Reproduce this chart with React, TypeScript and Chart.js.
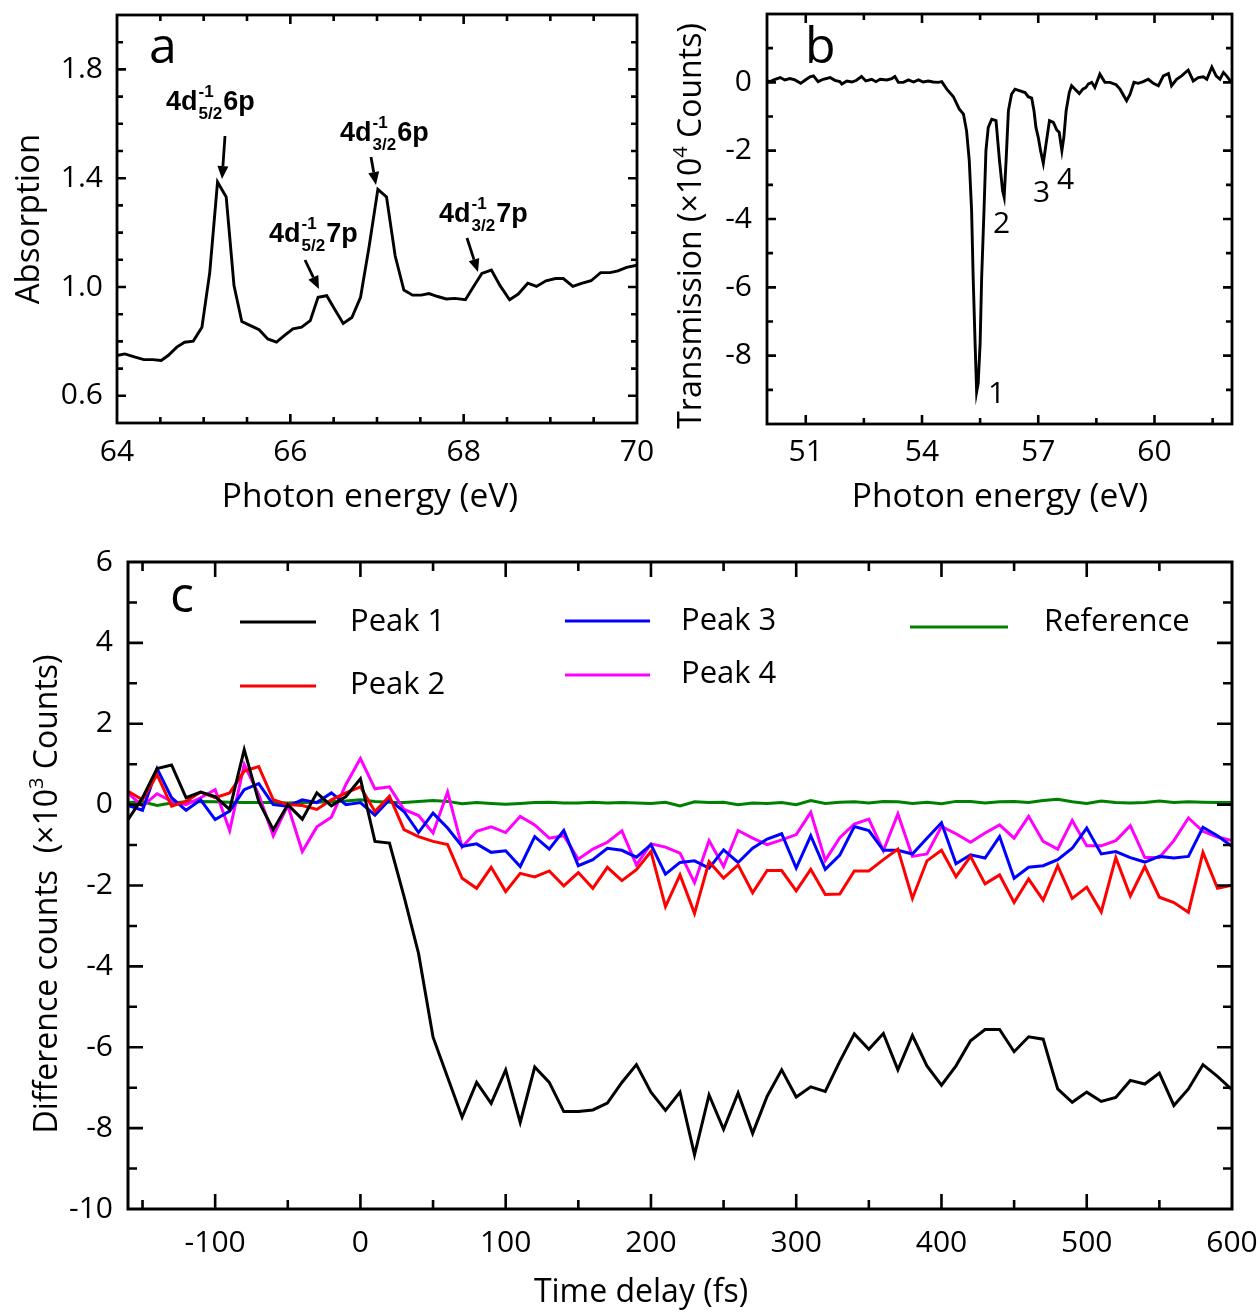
import React, { useEffect, useRef } from 'react';
import { Chart, registerables } from 'chart.js';
Chart.register(...registerables);

const W = 1260;
const H = 1314;
const SANS = "'Open Sans', 'Noto Sans', 'DejaVu Sans', sans-serif";
const BOLD = "'Liberation Sans', Arial, sans-serif";

// ---------- Panel a : absorption ----------
const absEnergy = [64.00, 64.09, 64.21, 64.31, 64.41, 64.51, 64.59, 64.69, 64.78, 64.88, 64.98,
  65.07, 65.16, 65.26, 65.35, 65.44, 65.54, 65.64, 65.74, 65.84, 65.93,
  66.03, 66.13, 66.23, 66.32, 66.42, 66.51, 66.61, 66.71, 66.81, 66.91,
  67.01, 67.11, 67.21, 67.31, 67.41, 67.51, 67.60, 67.70, 67.80, 67.90,
  68.02, 68.12, 68.21, 68.32, 68.42, 68.53, 68.63, 68.74, 68.84, 68.95,
  69.06, 69.15, 69.26, 69.36, 69.47, 69.58, 69.69, 69.78, 69.88, 70.00];
const absValue = [0.748, 0.754, 0.742, 0.733, 0.733, 0.730, 0.748, 0.779, 0.797, 0.801,
  0.852, 1.053, 1.386, 1.331, 1.005, 0.873, 0.858, 0.843, 0.809, 0.797,
  0.821, 0.846, 0.852, 0.876, 0.962, 0.968, 0.919, 0.866, 0.888, 0.962,
  1.151, 1.359, 1.331, 1.114, 0.989, 0.970, 0.970, 0.976, 0.965, 0.956,
  0.958, 0.953, 1.005, 1.050, 1.062, 1.005, 0.953, 0.974, 1.014, 1.002,
  1.023, 1.031, 1.031, 1.002, 1.013, 1.023, 1.053, 1.053, 1.059, 1.072, 1.080];
const aXTicks = [64, 64.5, 65, 65.5, 66, 66.5, 67, 67.5, 68, 68.5, 69, 69.5, 70];
const aXLabels = [64, 66, 68, 70];
const aYTicks = [0.5, 0.6, 0.7, 0.8, 0.9, 1.0, 1.1, 1.2, 1.3, 1.4, 1.5, 1.6, 1.7, 1.8, 1.9, 2.0];
const aYLabels = [0.6, 1.0, 1.4, 1.8];

// ---------- Panel b : transmission ----------
const transEnergy = [50.01, 50.08, 50.21, 50.34, 50.46, 50.59, 50.72, 50.87, 50.98, 51.11,
  51.20, 51.32, 51.45, 51.63, 51.75, 51.88, 51.93, 52.06, 52.19, 52.31,
  52.44, 52.55, 52.70, 52.81, 52.92, 53.09, 53.22, 53.30, 53.39, 53.52,
  53.65, 53.78, 53.91, 54.03, 54.16, 54.29, 54.42, 54.51, 54.64, 54.81,
  54.96, 55.07, 55.15, 55.22, 55.28, 55.32, 55.37, 55.41, 55.45, 55.50,
  55.54, 55.60, 55.65, 55.71, 55.80, 55.91, 56.00, 56.08, 56.12, 56.17,
  56.23, 56.31, 56.40, 56.53, 56.66, 56.74, 56.83, 56.89, 56.94, 57.00,
  57.06, 57.13, 57.20, 57.29, 57.39, 57.48, 57.54, 57.61, 57.66, 57.72,
  57.80, 57.86, 57.95, 58.06, 58.15, 58.23, 58.29, 58.38, 58.46, 58.59,
  58.72, 58.85, 59.01, 59.11, 59.28, 59.37, 59.47, 59.58, 59.71, 59.84,
  59.97, 60.10, 60.23, 60.36, 60.44, 60.57, 60.70, 60.87, 61.00, 61.13,
  61.26, 61.35, 61.48, 61.59, 61.69, 61.78, 61.86, 61.97];
const transValue = [0.04, 0.02, 0.09, 0.14, 0.07, 0.11, 0.07, -0.03, 0.06, 0.16,
  0.19, 0.02, 0.09, 0.14, 0.06, 0.02, -0.05, 0.04, 0.01, 0.06,
  0.17, 0.04, 0.09, 0.02, 0.09, 0.07, 0.11, 0.17, 0.00, 0.00,
  0.07, 0.01, 0.07, 0.01, 0.04, 0.01, 0.00, 0.02, -0.20, -0.42,
  -0.78, -0.93, -1.42, -2.29, -3.75, -5.70, -7.64, -9.06, -8.81, -7.64,
  -5.70, -3.75, -2.00, -1.32, -1.08, -1.12, -2.29, -3.17, -3.36, -2.29,
  -0.83, -0.35, -0.20, -0.25, -0.30, -0.42, -0.46, -0.83, -1.32, -1.61,
  -2.00, -2.37, -1.81, -1.12, -1.17, -1.40, -1.46, -2.00, -1.61, -0.83,
  -0.30, -0.10, -0.20, -0.33, -0.20, -0.15, -0.05, 0.00, -0.15, 0.24,
  0.00, 0.00, -0.07, -0.20, -0.54, -0.35, 0.00, -0.03, 0.02, 0.09,
  -0.03, -0.10, 0.19, 0.26, -0.10, 0.09, 0.19, 0.36, 0.04, 0.14,
  0.16, 0.09, 0.45, 0.19, 0.09, 0.29, 0.19, 0.02];
const bXTicks = [51, 52.5, 54, 55.5, 57, 58.5, 60, 61.5];
const bXLabels = [51, 54, 57, 60];
const bYTicks = [-10, -9, -8, -7, -6, -5, -4, -3, -2, -1, 0, 1, 2];
const bYLabels = [-8, -6, -4, -2, 0];

// ---------- Panel c : difference counts ----------
const delays = [-160, -150, -140, -130, -120, -110, -100, -90, -80, -70, -60, -50, -40, -30, -20, -10, 0,
  10, 20, 30, 40, 50, 60, 70, 80, 90, 100, 110, 120, 130, 140, 150, 160, 170, 180, 190, 200,
  210, 220, 230, 240, 250, 260, 270, 280, 290, 300, 310, 320, 330, 340, 350, 360, 370, 380, 390, 400,
  410, 420, 430, 440, 450, 460, 470, 480, 490, 500, 510, 520, 530, 540, 550, 560, 570, 580, 590, 600];
const peak1 = [-0.37, 0.17, 0.89, 0.98, 0.17, 0.31, 0.20, -0.12, 1.36, 0.08, -0.62, 0.00, -0.36, 0.29, -0.03, 0.20, 0.64,
  -0.91, -0.95, -2.27, -3.68, -5.75, -6.74, -7.73, -6.87, -7.39, -6.56,
  -7.86, -6.49, -6.87, -7.59, -7.59, -7.55, -7.38, -6.87, -6.43, -7.11,
  -7.56, -7.11, -8.66, -7.18, -8.03, -7.13, -8.13, -7.21, -6.56, -7.23,
  -6.98, -7.09, -6.35, -5.67, -6.05, -5.66, -6.56, -5.71, -6.46, -6.94,
  -6.46, -5.84, -5.56, -5.56, -6.11, -5.74, -5.80, -7.03, -7.36, -7.11,
  -7.34, -7.24, -6.82, -6.91, -6.64, -7.44, -7.03, -6.43, -6.72, -7.05];
const peak2 = [0.33, 0.12, 0.74, -0.04, 0.08, 0.31, 0.17, 0.29, 0.83, 0.94, 0.12, 0.00, -0.02, -0.12, 0.12, 0.29, 0.44,
  -0.17, 0.21, -0.62, -0.79, -0.91, -0.99, -1.82, -2.07, -1.55, -2.15,
  -1.70, -1.79, -1.64, -2.01, -1.68, -2.07, -1.55, -1.88, -1.61, -1.16,
  -2.52, -1.74, -2.69, -1.41, -1.82, -1.49, -2.18, -1.63, -1.63, -2.13,
  -1.60, -2.22, -2.21, -1.64, -1.64, -1.36, -1.10, -2.32, -1.39, -1.13,
  -1.78, -1.28, -1.96, -1.74, -2.42, -1.84, -2.36, -1.51, -2.32, -2.04,
  -2.65, -1.31, -2.26, -1.53, -2.29, -2.42, -2.66, -1.18, -2.07, -1.99];
const peak3 = [-0.02, -0.14, 0.89, 0.17, -0.14, 0.12, -0.37, -0.16, 0.37, 0.52, 0.00, -0.04, 0.12, 0.05, 0.29, 0.00, 0.05,
  -0.26, 0.12, -0.17, -0.69, -0.21, -0.58, -1.03, -0.97, -1.18, -1.14,
  -1.53, -0.79, -1.10, -0.64, -1.51, -1.36, -1.08, -1.13, -1.30, -0.99,
  -1.72, -1.43, -1.39, -1.57, -1.12, -1.43, -1.08, -0.85, -0.72, -1.57,
  -0.77, -1.60, -1.25, -0.54, -0.64, -1.13, -1.13, -1.22, -0.83, -0.45,
  -1.46, -1.24, -1.32, -0.79, -1.82, -1.55, -1.51, -1.36, -1.08, -0.58,
  -1.22, -1.16, -1.31, -1.42, -1.28, -1.32, -1.28, -0.56, -0.77, -1.03];
const peak4 = [0.29, -0.04, 0.27, 0.08, 0.00, 0.17, 0.37, -0.64, 0.99, 0.25, -0.77, -0.02, -1.16, -0.55, -0.31, 0.50, 1.14,
  0.39, 0.44, -0.12, -0.27, -0.70, 0.31, -1.05, -0.66, -0.55, -0.69,
  -0.29, -0.50, -0.83, -0.77, -1.35, -1.10, -0.93, -0.65, -1.49, -0.97,
  -1.05, -1.20, -1.93, -0.89, -1.53, -0.64, -0.83, -0.99, -0.87, -0.74,
  -0.19, -1.38, -0.82, -0.48, -0.36, -1.14, -0.23, -1.28, -1.22, -0.54,
  -0.72, -0.93, -0.70, -0.50, -0.83, -0.29, -0.91, -1.10, -0.39, -1.02,
  -1.02, -0.89, -0.52, -1.31, -1.31, -0.89, -0.33, -0.66, -0.80, -0.89];
const reference = [0.05, 0.07, -0.02, 0.04, 0.07, 0.08, 0.07, 0.06, 0.05, 0.05, 0.05, 0.04, 0.05, 0.06, 0.07, 0.09, 0.12,
  0.08, 0.06, 0.05, 0.08, 0.10, 0.08, 0.02, 0.05, 0.03, 0.01,
  0.03, 0.05, 0.06, 0.04, 0.04, 0.06, 0.04, 0.05, 0.04, 0.03,
  0.06, -0.03, 0.07, 0.05, 0.06, 0.00, 0.04, 0.03, 0.05, 0.00,
  0.10, 0.03, 0.06, 0.07, 0.04, 0.08, 0.07, 0.03, 0.06, 0.02,
  0.08, 0.08, 0.04, 0.07, 0.08, 0.05, 0.10, 0.13, 0.07, 0.03,
  0.09, 0.05, 0.04, 0.05, 0.09, 0.05, 0.07, 0.06, 0.05, 0.05];
const cXTicks = [-150, -100, -50, 0, 50, 100, 150, 200, 250, 300, 350, 400, 450, 500, 550, 600];
const cXLabels = [-100, 0, 100, 200, 300, 400, 500, 600];
const cYTicks = [-10, -9, -8, -7, -6, -5, -4, -3, -2, -1, 0, 1, 2, 3, 4, 5, 6];
const cYLabels = [-10, -8, -6, -4, -2, 0, 2, 4, 6];

// ---------- helpers ----------
const pts = (xs: number[], ys: number[]) => xs.map((x, i) => ({ x, y: ys[i] }));
const isIn = (arr: number[], v: number) => arr.some((l) => Math.abs(l - v) < 1e-6);

type Seg = { text: string; size: number; rise?: number };
function drawRich(ctx: CanvasRenderingContext2D, segs: Seg[], cx: number, cy: number, vertical: boolean) {
  ctx.save();
  ctx.translate(cx, cy);
  if (vertical) ctx.rotate(-Math.PI / 2);
  ctx.fillStyle = '#000';
  ctx.textAlign = 'left';
  ctx.textBaseline = 'middle';
  const widths = segs.map((s) => {
    ctx.font = `${s.size}px ${SANS}`;
    return ctx.measureText(s.text).width;
  });
  const total = widths.reduce((a, b) => a + b, 0);
  let x = -total / 2;
  segs.forEach((s, i) => {
    ctx.font = `${s.size}px ${SANS}`;
    ctx.fillText(s.text, x, -(s.rise || 0));
    x += widths[i];
  });
  ctx.restore();
}

function drawText(ctx: CanvasRenderingContext2D, text: string, x: number, y: number, size: number) {
  ctx.save();
  ctx.fillStyle = '#000';
  ctx.font = `${size}px ${SANS}`;
  ctx.textAlign = 'left';
  ctx.textBaseline = 'alphabetic';
  ctx.fillText(text, x, y);
  ctx.restore();
}

function drawLevel(ctx: CanvasRenderingContext2D, x: number, y: number, sub: string, tail: string) {
  ctx.save();
  ctx.fillStyle = '#000';
  ctx.textAlign = 'left';
  ctx.textBaseline = 'alphabetic';
  ctx.font = `bold 27px ${BOLD}`;
  ctx.fillText('4d', x, y);
  let cx = x + ctx.measureText('4d').width;
  ctx.font = `bold 17px ${BOLD}`;
  const w1 = ctx.measureText('-1').width;
  const w2 = ctx.measureText(sub).width;
  ctx.fillText('-1', cx + 1, y - 13);
  ctx.fillText(sub, cx + 1, y + 9);
  cx += Math.max(w1, w2) + 2;
  ctx.font = `bold 27px ${BOLD}`;
  ctx.fillText(tail, cx, y);
  ctx.restore();
}

function drawArrow(ctx: CanvasRenderingContext2D, x1: number, y1: number, x2: number, y2: number) {
  const a = Math.atan2(y2 - y1, x2 - x1);
  const hl = 13;
  const hw = 5.5;
  const bx = x2 - hl * Math.cos(a);
  const by = y2 - hl * Math.sin(a);
  ctx.save();
  ctx.strokeStyle = '#000';
  ctx.fillStyle = '#000';
  ctx.lineWidth = 2.8;
  ctx.beginPath();
  ctx.moveTo(x1, y1);
  ctx.lineTo(bx, by);
  ctx.stroke();
  ctx.beginPath();
  ctx.moveTo(x2, y2);
  ctx.lineTo(bx + hw * Math.sin(a), by - hw * Math.cos(a));
  ctx.lineTo(bx - hw * Math.sin(a), by + hw * Math.cos(a));
  ctx.closePath();
  ctx.fill();
  ctx.restore();
}

type AxisSpec = { min: number; max: number; ticks: number[]; labels: number[]; fmt: (v: number) => string; pad: number };
type PanelSpec = {
  datasets: any[];
  x: AxisSpec;
  y: AxisSpec;
  area: { left: number; top: number; right: number; bottom: number };
  tickFont: number;
  major: number;
  minor: number;
  frameWidth: number;
  decorate: (ctx: CanvasRenderingContext2D, chart: any) => void;
};

function zeroPad(s: any) {
  s.paddingTop = 0;
  s.paddingBottom = 0;
  s.paddingLeft = 0;
  s.paddingRight = 0;
}

function buildConfig(p: PanelSpec): any {
  const yW = 60;
  const xH = 60;
  const framePlugin = {
    id: 'frameTicks',
    afterDraw(chart: any) {
      const ctx: CanvasRenderingContext2D = chart.ctx;
      const { left, right, top, bottom } = chart.chartArea;
      const xs = chart.scales.x;
      const ys = chart.scales.y;
      ctx.save();
      ctx.strokeStyle = '#000';
      ctx.lineWidth = 2.6;
      ctx.lineCap = 'butt';
      ctx.beginPath();
      xs.ticks.forEach((t: any) => {
        const px = xs.getPixelForValue(t.value);
        if (px <= left + 1 || px >= right - 1) return;
        const len = isIn(p.x.labels, t.value) ? p.major : p.minor;
        ctx.moveTo(px, bottom);
        ctx.lineTo(px, bottom - len);
        ctx.moveTo(px, top);
        ctx.lineTo(px, top + len);
      });
      ys.ticks.forEach((t: any) => {
        const py = ys.getPixelForValue(t.value);
        if (py <= top + 1 || py >= bottom - 1) return;
        const len = isIn(p.y.labels, t.value) ? p.major : p.minor;
        ctx.moveTo(left, py);
        ctx.lineTo(left + len, py);
        ctx.moveTo(right, py);
        ctx.lineTo(right - len, py);
      });
      ctx.stroke();
      ctx.lineWidth = p.frameWidth;
      ctx.strokeRect(left, top, right - left, bottom - top);
      ctx.restore();
      p.decorate(ctx, chart);
    },
  };
  const tickOpts = (a: AxisSpec) => ({
    autoSkip: false,
    maxRotation: 0,
    minRotation: 0,
    padding: a.pad,
    color: '#000',
    font: { family: SANS, size: p.tickFont },
    callback: (v: any) => (isIn(a.labels, Number(v)) ? a.fmt(Number(v)) : ''),
  });
  return {
    type: 'line',
    data: { datasets: p.datasets },
    options: {
      responsive: false,
      animation: false,
      events: [],
      layout: {
        padding: {
          left: p.area.left - yW,
          top: p.area.top,
          right: W - p.area.right,
          bottom: H - p.area.bottom - xH,
        },
      },
      elements: { point: { radius: 0 }, line: { tension: 0 } },
      plugins: { legend: { display: false }, tooltip: { enabled: false } },
      scales: {
        x: {
          type: 'linear',
          position: 'bottom',
          min: p.x.min,
          max: p.x.max,
          afterBuildTicks: (s: any) => {
            s.ticks = p.x.ticks.map((v) => ({ value: v }));
          },
          afterFit: (s: any) => {
            s.height = xH;
            zeroPad(s);
          },
          grid: { display: false, drawTicks: false },
          border: { display: false },
          ticks: tickOpts(p.x),
        },
        y: {
          type: 'linear',
          position: 'left',
          min: p.y.min,
          max: p.y.max,
          afterBuildTicks: (s: any) => {
            s.ticks = p.y.ticks.map((v) => ({ value: v }));
          },
          afterFit: (s: any) => {
            s.width = yW;
            zeroPad(s);
          },
          grid: { display: false, drawTicks: false },
          border: { display: false },
          ticks: tickOpts(p.y),
        },
      },
    },
    plugins: [framePlugin],
  };
}

const line = (label: string, data: any[], color: string, width: number) => ({
  label,
  data,
  borderColor: color,
  backgroundColor: color,
  borderWidth: width,
  pointRadius: 0,
  fill: false,
  tension: 0,
  borderJoinStyle: 'miter',
});

function configA() {
  return buildConfig({
    datasets: [line('Absorption', pts(absEnergy, absValue), '#000', 2.9)],
    x: { min: 64, max: 70, ticks: aXTicks, labels: aXLabels, fmt: (v) => String(v), pad: 11 },
    y: { min: 0.5, max: 2.0, ticks: aYTicks, labels: aYLabels, fmt: (v) => v.toFixed(1), pad: 14 },
    area: { left: 117, top: 15, right: 637, bottom: 423 },
    tickFont: 30,
    major: 9,
    minor: 6,
    frameWidth: 2.8,
    decorate: (ctx) => {
      drawText(ctx, 'a', 149, 63, 50);
      drawLevel(ctx, 166, 110, '5/2', '6p');
      drawLevel(ctx, 340, 141, '3/2', '6p');
      drawLevel(ctx, 269, 242, '5/2', '7p');
      drawLevel(ctx, 439, 222, '3/2', '7p');
      drawArrow(ctx, 225, 136, 222, 179);
      drawArrow(ctx, 371, 157, 376, 185);
      drawArrow(ctx, 305, 260, 319, 289);
      drawArrow(ctx, 467, 238, 478, 272);
      drawRich(ctx, [{ text: 'Photon energy (eV)', size: 33.5 }], 370, 497, false);
      drawRich(ctx, [{ text: 'Absorption', size: 33 }], 30, 219, true);
    },
  });
}

function configB() {
  return buildConfig({
    datasets: [line('Transmission', pts(transEnergy, transValue), '#000', 2.9)],
    x: { min: 50, max: 62, ticks: bXTicks, labels: bXLabels, fmt: (v) => String(v), pad: 10 },
    y: { min: -10, max: 2, ticks: bYTicks, labels: bYLabels, fmt: (v) => String(v), pad: 15 },
    area: { left: 767, top: 14, right: 1232, bottom: 424 },
    tickFont: 30,
    major: 9,
    minor: 6,
    frameWidth: 2.8,
    decorate: (ctx) => {
      drawText(ctx, 'b', 805, 63, 50);
      drawText(ctx, '1', 988, 403, 30);
      drawText(ctx, '2', 993, 233, 30);
      drawText(ctx, '3', 1033, 202, 30);
      drawText(ctx, '4', 1057, 189, 30);
      drawRich(ctx, [{ text: 'Photon energy (eV)', size: 33.5 }], 1000, 497, false);
      drawRich(
        ctx,
        [
          { text: 'Transmission (\u00d710', size: 32 },
          { text: '4', size: 20, rise: 11 },
          { text: ' Counts)', size: 32 },
        ],
        692,
        226,
        true,
      );
    },
  });
}

function configC() {
  return buildConfig({
    datasets: [
      line('Peak 1', pts(delays, peak1), '#000000', 3),
      line('Peak 2', pts(delays, peak2), '#ff0000', 3),
      line('Peak 3', pts(delays, peak3), '#0000ff', 3),
      line('Peak 4', pts(delays, peak4), '#ff00ff', 3),
      line('Reference', pts(delays, reference), '#008000', 3),
    ],
    x: { min: -160, max: 600, ticks: cXTicks, labels: cXLabels, fmt: (v) => String(v), pad: 16 },
    y: { min: -10, max: 6, ticks: cYTicks, labels: cYLabels, fmt: (v) => String(v), pad: 15 },
    area: { left: 128, top: 562, right: 1232, bottom: 1209 },
    tickFont: 30,
    major: 15,
    minor: 9,
    frameWidth: 3,
    decorate: (ctx, chart) => {
      drawText(ctx, 'c', 170, 612, 50);
      const pos = [
        { x1: 240, x2: 316, ly: 622, tx: 350, ty: 622 },
        { x1: 240, x2: 316, ly: 686, tx: 350, ty: 685 },
        { x1: 565, x2: 650, ly: 621, tx: 681, ty: 621 },
        { x1: 565, x2: 650, ly: 675, tx: 681, ty: 674 },
        { x1: 910, x2: 1008, ly: 627, tx: 1044, ty: 622 },
      ];
      chart.data.datasets.forEach((ds: any, i: number) => {
        const q = pos[i];
        ctx.save();
        ctx.strokeStyle = ds.borderColor;
        ctx.lineWidth = 3;
        ctx.beginPath();
        ctx.moveTo(q.x1, q.ly);
        ctx.lineTo(q.x2, q.ly);
        ctx.stroke();
        ctx.fillStyle = '#000';
        ctx.font = `31px ${SANS}`;
        ctx.textAlign = 'left';
        ctx.textBaseline = 'middle';
        ctx.fillText(ds.label, q.tx, q.ty);
        ctx.restore();
      });
      drawRich(ctx, [{ text: 'Time delay (fs)', size: 32 }], 641, 1293, false);
      drawRich(
        ctx,
        [
          { text: 'Difference counts  (\u00d710', size: 32 },
          { text: '3', size: 20, rise: 11 },
          { text: ' Counts)', size: 32 },
        ],
        48,
        894,
        true,
      );
    },
  });
}

export default function App() {
  const refA = useRef<HTMLCanvasElement>(null);
  const refB = useRef<HTMLCanvasElement>(null);
  const refC = useRef<HTMLCanvasElement>(null);
  useEffect(() => {
    const charts = [
      new Chart(refA.current as HTMLCanvasElement, configA()),
      new Chart(refB.current as HTMLCanvasElement, configB()),
      new Chart(refC.current as HTMLCanvasElement, configC()),
    ];
    return () => charts.forEach((c) => c.destroy());
  }, []);
  const cs: React.CSSProperties = { position: 'absolute', left: 0, top: 0, width: W, height: H };
  return (
    <div style={{ position: 'absolute', left: 0, top: 0, width: W, height: H, background: '#fff', overflow: 'hidden' }}>
      <canvas ref={refA} width={W} height={H} style={cs} />
      <canvas ref={refB} width={W} height={H} style={cs} />
      <canvas ref={refC} width={W} height={H} style={cs} />
    </div>
  );
}
